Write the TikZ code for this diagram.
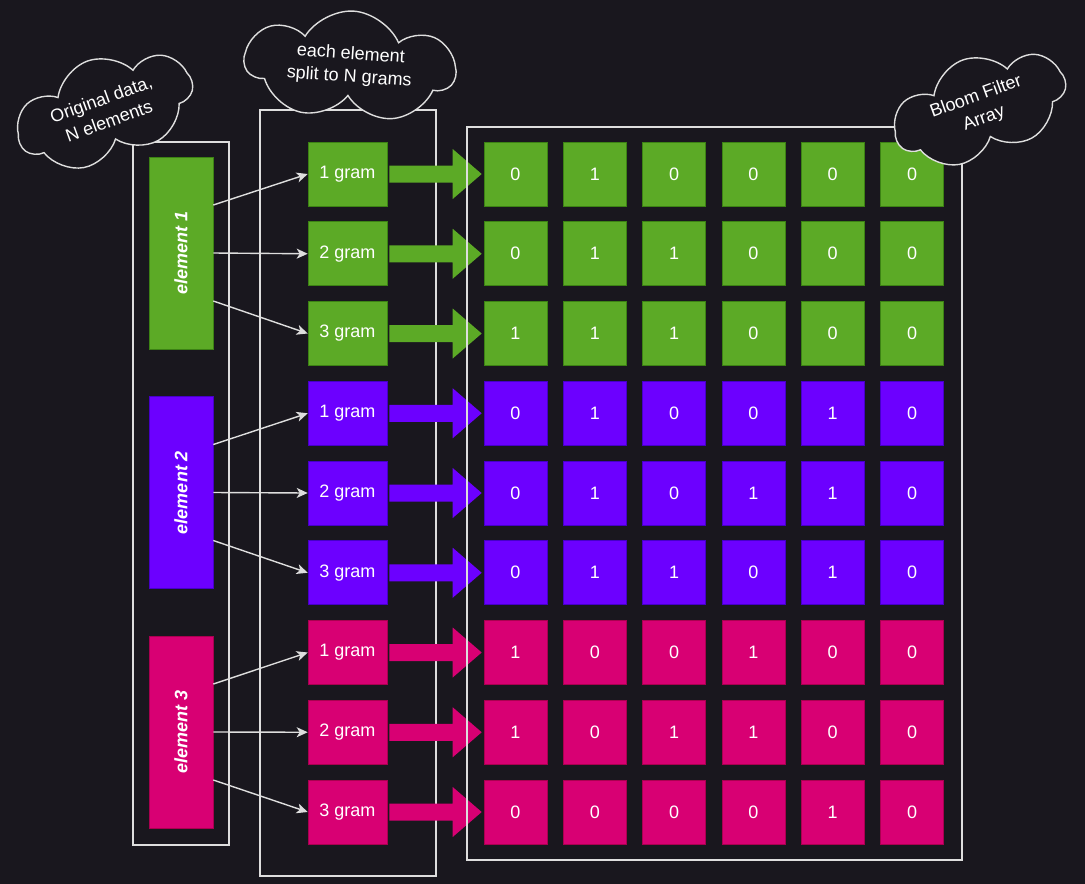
\documentclass[tikz,border=0pt]{standalone}
\usepackage{fontspec}
\setmainfont{Liberation Sans}
\usepackage{graphicx}
\usetikzlibrary{shapes.symbols,arrows.meta,calc}
\definecolor{bg}{RGB}{25,23,30}
\definecolor{gfill}{RGB}{92,170,38}
\definecolor{gline}{RGB}{60,130,20}
\definecolor{pfill}{RGB}{108,0,255}
\definecolor{pline}{RGB}{70,0,200}
\definecolor{mfill}{RGB}{216,0,115}
\definecolor{mline}{RGB}{170,0,80}
\definecolor{framec}{RGB}{222,222,222}
\begin{document}
\begin{tikzpicture}[x=1pt,y=-1pt,
  txt/.style={text=white,font=\fontsize{18}{22}\selectfont},
  framebox/.style={draw=framec,line width=1.4pt,fill=none},
  gram/.style={txt,fill=#1fill,draw=#1line,line width=0.6pt,minimum width=79pt,minimum height=64pt,inner sep=0pt},
  cell/.style={txt,fill=#1fill,draw=#1line,line width=0.6pt,minimum width=63pt,minimum height=64pt,inner sep=0pt},
  elem/.style={txt,font=\fontsize{18}{22}\selectfont\bfseries\itshape,fill=#1fill,draw=#1line,line width=0.6pt,minimum width=64pt,minimum height=192pt,inner sep=0pt},
  thinarrow/.style={draw=framec,line width=1.4pt,-{Stealth[length=11pt,width=10pt,inset=3pt]}},
  cloudy/.style={cloud,cloud puffs=7,cloud puff arc=125,cloud ignores aspect,draw=framec,line width=1.4pt,fill=bg,txt,font=\fontsize{18}{23}\selectfont,align=center,inner sep=0pt}
]
\useasboundingbox (0,0) rectangle (1085,884);
\fill[bg] (0,0) rectangle (1085,884);

% frames
\node[framebox,minimum width=96pt,minimum height=703pt] (fe) at (181,493.5) {};
\node[framebox,minimum width=176pt,minimum height=766pt] (fg) at (348,493) {};

% elements
\node[elem=g] (e1) at (181,253) {\rotatebox{90}{element 1}};
\node[elem=p] (e2) at (181,492.5) {\rotatebox{90}{element 2}};
\node[elem=m] (e3) at (181,732) {\rotatebox{90}{element 3}};

% grams, cells, block arrows
\foreach \r/\col/\n/\vals in {
  1/g/1/{0,1,0,0,0,0},
  2/g/2/{0,1,1,0,0,0},
  3/g/3/{1,1,1,0,0,0},
  4/p/1/{0,1,0,0,1,0},
  5/p/2/{0,1,0,1,1,0},
  6/p/3/{0,1,1,0,1,0},
  7/m/1/{1,0,0,1,0,0},
  8/m/2/{1,0,1,1,0,0},
  9/m/3/{0,0,0,0,1,0}}{
  \node[gram=\col] (g\r) at (347.5,{174+(\r-1)*79.75}) {\n\ gram};
  \foreach \v [count=\k] in \vals {
    \node[cell=\col] (c\r-\k) at ({515.5+(\k-1)*79.3},{174+(\r-1)*79.75}) {\v};
  }
  \fill[\col fill] ($(g\r.east)+(2,-8.5)$) -- ($(c\r-1.west)+(-31,-8.5)$)
     -- ($(c\r-1.west)+(-31,-25)$) -- ($(c\r-1.west)+(-2,0)$)
     -- ($(c\r-1.west)+(-31,25)$) -- ($(c\r-1.west)+(-31,8.5)$)
     -- ($(g\r.east)+(2,8.5)$) -- cycle;
}

% array frame
\node[framebox,minimum width=495pt,minimum height=733pt] (fa) at (714.5,493.5) {};

% thin arrows
\foreach \e/\a/\b/\c in {1/1/2/3,2/4/5/6,3/7/8/9}{
  \draw[thinarrow] ($(e\e.east)+(0,-48)$) -- (g\a.west);
  \draw[thinarrow] (e\e.east) -- (g\b.west);
  \draw[thinarrow] ($(e\e.east)+(0,48)$) -- (g\c.west);
}

% clouds
\node[cloudy,minimum width=182pt,minimum height=104pt,rotate=20] (k1) at (105,110) {Original data,\\N elements};
\node[cloudy,minimum width=210pt,minimum height=110pt,rotate=-4] (k2) at (350,66) {each element\\split to N grams};
\node[cloudy,minimum width=178pt,minimum height=102pt,rotate=20] (k3) at (980,108) {Bloom Filter\\Array};
\end{tikzpicture}
\end{document}
